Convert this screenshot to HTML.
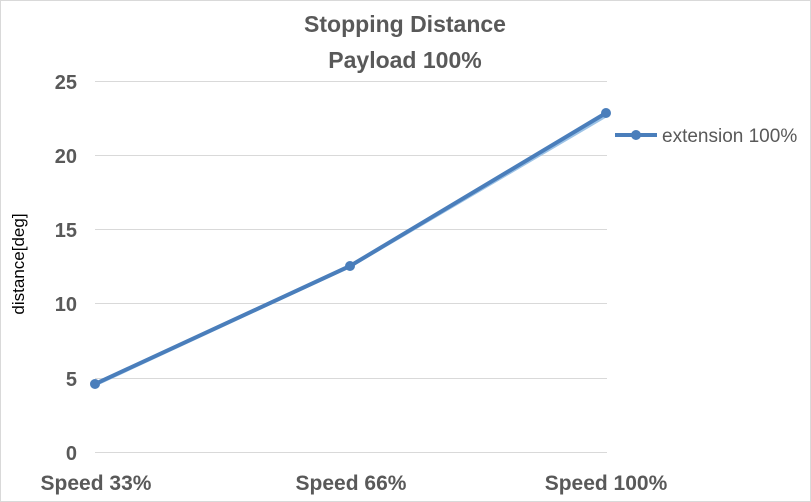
<!DOCTYPE html>
<html><head><style>
body{margin:0;background:#fff;}
svg{display:block;font-family:"Liberation Sans",Calibri,sans-serif;}
</style></head><body>
<svg width="811" height="502" viewBox="0 0 811 502" xmlns="http://www.w3.org/2000/svg">
<rect x="0.5" y="0.5" width="810" height="501" fill="#fff" stroke="#d9d9d9"/>
<text x="405" y="32" text-anchor="middle" font-size="23" font-weight="bold" fill="#595959">Stopping Distance</text>
<text x="405" y="68" text-anchor="middle" font-size="23" font-weight="bold" fill="#595959">Payload 100%</text>
<g stroke="#d9d9d9" stroke-width="1">
<line x1="95" y1="81.5" x2="607" y2="81.5"/>
<line x1="95" y1="155.5" x2="607" y2="155.5"/>
<line x1="95" y1="229.5" x2="607" y2="229.5"/>
<line x1="95" y1="303.5" x2="607" y2="303.5"/>
<line x1="95" y1="378.5" x2="607" y2="378.5"/>
<line x1="95" y1="452.5" x2="607" y2="452.5"/>
</g>
<g font-size="20" font-weight="bold" fill="#595959" text-anchor="end">
<text x="77" y="89">25</text>
<text x="77" y="163">20</text>
<text x="77" y="237">15</text>
<text x="77" y="311">10</text>
<text x="77" y="386">5</text>
<text x="77" y="460">0</text>
</g>
<text transform="translate(24,264) rotate(-90)" text-anchor="middle" font-size="17" fill="#000">distance[deg]</text>
<g font-size="21" font-weight="bold" fill="#595959" text-anchor="middle">
<text x="96" y="490">Speed 33%</text>
<text x="351" y="490">Speed 66%</text>
<text x="606" y="490">Speed 100%</text>
</g>
<polyline points="95,385 350,266.5 606,116" fill="none" stroke="#9dc3e6" stroke-width="3"/>
<polyline points="95,384 350,266 606,113" fill="none" stroke="#4a7ebb" stroke-width="4" stroke-linejoin="round"/>
<g fill="#4a7ebb">
<circle cx="95" cy="384" r="5"/>
<circle cx="350" cy="266" r="5"/>
<circle cx="606" cy="113" r="5"/>
</g>
<line x1="615" y1="135" x2="657" y2="135" stroke="#4a7ebb" stroke-width="4"/>
<circle cx="636" cy="135" r="5" fill="#4a7ebb"/>
<text x="662" y="142" font-size="19" fill="#595959">extension 100%</text>
</svg>
</body></html>
